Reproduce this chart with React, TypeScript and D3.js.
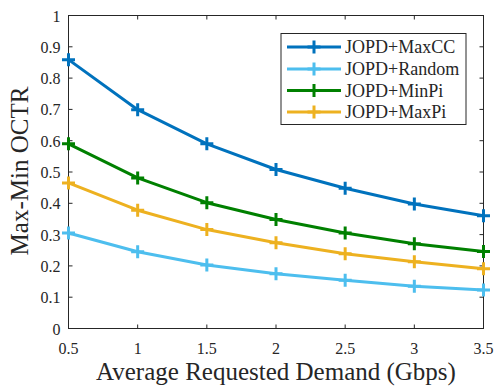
import React from "react";
import * as d3 from "d3";

const demand = [0.5, 1, 1.5, 2, 2.5, 3, 3.5];
const maxCC = [0.859, 0.699, 0.59, 0.508, 0.448, 0.398, 0.36];
const random = [0.305, 0.245, 0.203, 0.175, 0.154, 0.135, 0.123];
const minPi = [0.59, 0.481, 0.402, 0.348, 0.305, 0.271, 0.246];
const maxPi = [0.465, 0.378, 0.316, 0.274, 0.239, 0.213, 0.191];
const seriesNames = ["JOPD+MaxCC", "JOPD+Random", "JOPD+MinPi", "JOPD+MaxPi"];
const seriesColors = ["#0072BD", "#4DBEEE", "#008000", "#EDB120"];
const yTicks = [0, 0.1, 0.2, 0.3, 0.4, 0.5, 0.6, 0.7, 0.8, 0.9, 1];

const W = 496;
const H = 386;
const left = 68.5;
const right = 483.5;
const top = 15.5;
const bottom = 328.5;
const ink = "#262626";
const font = "Liberation Serif, Times New Roman, serif";

const App = () => {
  const x = d3.scaleLinear().domain([0.5, 3.5]).range([left, right]);
  const y = d3.scaleLinear().domain([0, 1]).range([bottom, top]);
  const line = d3
    .line<number>()
    .x((_, i) => x(demand[i]))
    .y((d) => y(d));
  const allSeries = [maxCC, random, minPi, maxPi];

  const plus = (cx: number, cy: number, color: string, key: string) => (
    <path
      key={key}
      d={`M${cx - 6.5},${cy}H${cx + 6.5}M${cx},${cy - 6.5}V${cy + 6.5}`}
      stroke={color}
      strokeWidth={3}
    />
  );

  const lg = { x0: 281, y0: 33.5, w: 185, h: 91 };
  const rowY = [47, 69, 90.5, 112];

  return (
    <svg
      width={W}
      height={H}
      style={{ position: "absolute", left: 0, top: 0, background: "white", fontFamily: font }}
    >
      {/* box */}
      <rect x={left} y={top} width={right - left} height={bottom - top} fill="none" stroke={ink} strokeWidth={1} />
      {/* x ticks */}
      {demand.map((d) => (
        <g key={"x" + d}>
          <line x1={x(d)} x2={x(d)} y1={bottom} y2={bottom - 4} stroke={ink} />
          <line x1={x(d)} x2={x(d)} y1={top} y2={top + 4} stroke={ink} />
          <text x={x(d)} y={bottom + 25} textAnchor="middle" fontSize={16} fill={ink}>
            {d}
          </text>
        </g>
      ))}
      {/* y ticks */}
      {yTicks.map((t) => (
        <g key={"y" + t}>
          <line x1={left} x2={left + 4} y1={y(t)} y2={y(t)} stroke={ink} />
          <line x1={right} x2={right - 4} y1={y(t)} y2={y(t)} stroke={ink} />
          <text x={left - 8} y={y(t) + 6} textAnchor="end" fontSize={16} fill={ink}>
            {t}
          </text>
        </g>
      ))}
      {/* series */}
      {allSeries.map((s, si) => (
        <g key={"s" + si}>
          <path d={line(s) || ""} fill="none" stroke={seriesColors[si]} strokeWidth={3} strokeLinejoin="round" />
          {s.map((v, i) => plus(x(demand[i]), y(v), seriesColors[si], `m${si}-${i}`))}
        </g>
      ))}
      {/* legend */}
      <rect x={lg.x0} y={lg.y0} width={lg.w} height={lg.h} fill="white" stroke={ink} strokeWidth={1} />
      {seriesNames.map((n, i) => (
        <g key={"l" + n}>
          <line x1={287} x2={341} y1={rowY[i]} y2={rowY[i]} stroke={seriesColors[i]} strokeWidth={3} />
          {plus(314, rowY[i], seriesColors[i], "lm" + i)}
          <text x={345} y={rowY[i] + 6} fontSize={18} fill={ink}>
            {n}
          </text>
        </g>
      ))}
      {/* axis labels */}
      <text x={(left + right) / 2} y={380} textAnchor="middle" fontSize={25} fill={ink}>
        Average Requested Demand (Gbps)
      </text>
      <text
        transform={`translate(28,171) rotate(-90)`}
        textAnchor="middle"
        fontSize={25}
        fill={ink}
      >
        Max-Min OCTR
      </text>
    </svg>
  );
};

export default App;
